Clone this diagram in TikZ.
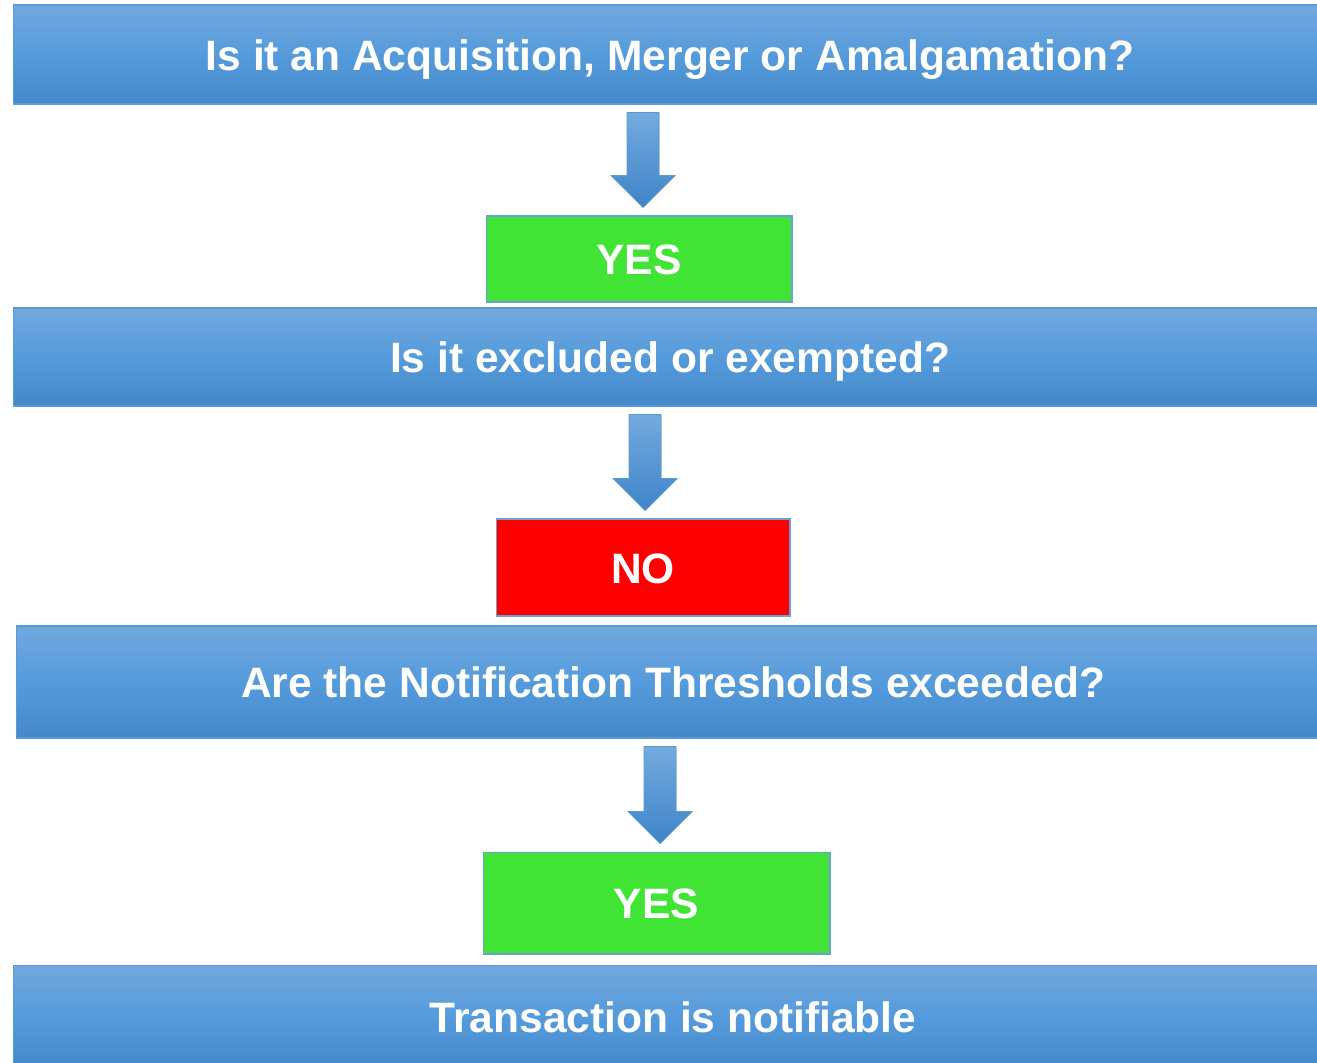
\documentclass[tikz,border=0pt]{standalone}
\usepackage{fontspec}
\setmainfont{Liberation Sans}
\usetikzlibrary{calc}
\definecolor{bannertop}{HTML}{72A8DD}
\definecolor{bannermiddle}{HTML}{559BDC}
\definecolor{bannerbottom}{HTML}{4588C8}
\definecolor{bannerline}{HTML}{5B9BD5}
\definecolor{arrowtop}{HTML}{74AADF}
\definecolor{arrowbottom}{HTML}{3F84C8}
\definecolor{yesgreen}{HTML}{41E335}
\definecolor{nored}{HTML}{FF0000}
\definecolor{answerline}{HTML}{6C9FD6}

% block arrow between two nodes, #1 = x of the shaft
\newcommand{\flowarrow}[3]{%
  \coordinate (arrow_tail) at ($(#1,0 |- #2.south)+(0,8)$);
  \coordinate (arrow_tip) at ($(#1,0 |- #3.north)+(0,-8)$);
  \filldraw[flow arrow] ($(arrow_tail)+(-16,0)$) -- ($(arrow_tail)+(16,0)$)
    -- ($(arrow_tip)+(16,-32)$) -- ($(arrow_tip)+(32,-32)$) -- (arrow_tip)
    -- ($(arrow_tip)+(-32,-32)$) -- ($(arrow_tip)+(-16,-32)$) -- cycle;
}

\begin{document}
\begin{tikzpicture}[
    x=0.02cm, y=-0.02cm,
    every node/.style={align=center, text=white, inner sep=0pt,
        font=\fontsize{24.2}{29}\selectfont\bfseries, text height=0.62cm, text depth=0pt},
    banner/.style={draw=bannerline, line width=0.6pt, top color=bannertop,
        bottom color=bannerbottom, middle color=bannermiddle},
    answer/.style={draw=answerline, line width=0.6pt},
    flow arrow/.style={draw=bannerline, line width=0.4pt, top color=arrowtop, bottom color=arrowbottom}
]
\useasboundingbox (0,0) rectangle (1317,1062);

\node (question_deal) [banner, minimum width=26.28cm, minimum height=1.98cm] at (670,54.5) {Is it an Acquisition, Merger or Amalgamation?};
\node (answer_deal) [answer, fill=yesgreen, minimum width=6.12cm, minimum height=1.72cm] at (639,259) {YES};
\node (question_exempt) [banner, minimum width=26.28cm, minimum height=1.96cm] at (670,357) {Is it excluded or exempted?};
\node (answer_exempt) [answer, fill=nored, minimum width=5.88cm, minimum height=1.94cm] at (643,567.5) {NO};
\node (question_threshold) [banner, minimum width=26.3cm, minimum height=2.24cm] at (673.5,682) {Are the Notification Thresholds exceeded?};
\node (answer_threshold) [answer, fill=yesgreen, minimum width=6.94cm, minimum height=2.04cm] at (656.5,903) {YES};
\node (result_notifiable) [banner, minimum width=26.4cm, minimum height=2.08cm] at (673,1017) {Transaction is notifiable};

\flowarrow{643}{question_deal}{answer_deal}
\flowarrow{645}{question_exempt}{answer_exempt}
\flowarrow{660}{question_threshold}{answer_threshold}
\end{tikzpicture}
\end{document}
